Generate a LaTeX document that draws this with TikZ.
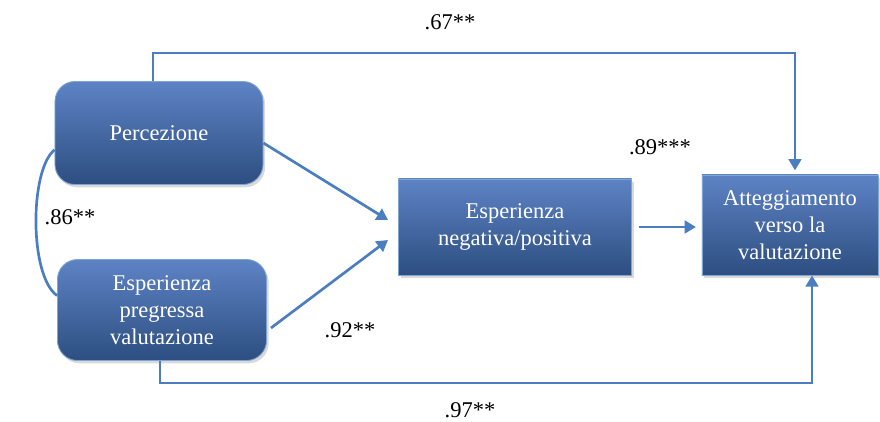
\documentclass[tikz,border=0pt]{standalone}
\usepackage{fontspec}
\setmainfont{Liberation Serif}
\usepackage{xcolor}
\usetikzlibrary{arrows.meta, positioning, shadows}

\definecolor{boxtop}{HTML}{5E83C5}
\definecolor{boxbot}{HTML}{2C4E80}
\definecolor{linkblue}{HTML}{4A7EC0}

\tikzset{
    varbox/.style={draw=linkblue!70!white, line width=0.6pt, top color=boxtop, bottom color=boxbot,
        text=white, align=center, font=\fontsize{16}{19}\selectfont, inner sep=2pt,
        drop shadow={opacity=0.3, shadow xshift=1.5pt, shadow yshift=-2pt}},
    roundbox/.style={varbox, rounded corners=0.5cm},
    link/.style={draw=linkblue, line width=1.9pt},
    arrowlink/.style={link, -{Triangle[length=8pt, width=9pt]}},
    coef/.style={font=\fontsize{16}{19}\selectfont}
}

\begin{document}
\begin{tikzpicture}[x=0.025cm, y=-0.025cm]
    \useasboundingbox (0,0) rectangle (880,421);

    % Boxes
    \node[roundbox, minimum width=5.2cm, minimum height=2.575cm] (perc) at (159,133) {Percezione};
    \node[roundbox, minimum width=5.225cm, minimum height=2.525cm] (preg) at (162,310) {Esperienza\\pregressa\\valutazione};
    \node[varbox, minimum width=5.825cm, minimum height=2.4cm] (neg) at (515,227) {Esperienza\\negativa/positiva};
    \node[varbox, minimum width=4.4cm, minimum height=2.5cm] (att) at (790,225) {Atteggiamento\\verso la\\valutazione};

    % Free ends of the two converging arrows
    \coordinate (inA) at (388,220);
    \coordinate (inB) at (388,240);

    % Connectors
    \draw[arrowlink, shorten >=3pt] ([xshift=-0.15cm]perc.north) -- ++(0,-28) -| ([xshift=0.125cm]att.north);
    \draw[arrowlink] ([yshift=-0.25cm]perc.east) -- (inA);
    \draw[arrowlink] ([xshift=0.1cm, yshift=-0.45cm]preg.east) -- (inB);
    \draw[arrowlink, shorten <=5pt, shorten >=4pt] (neg.east) -- (neg.east -| att.west);
    \draw[arrowlink] ([xshift=-0.05cm]preg.south) -- ++(0,22) -| ([xshift=0.55cm]att.south);
    \draw[link] ([yshift=-0.42cm]perc.west) .. controls +(-25,20) and +(-28,-20) .. ([yshift=0.36cm]preg.west);

    % Coefficients
    \node[coef] (c67) at (450,22) {.67**};
    \node[coef] (c89) at (660,147) {.89***};
    \node[coef] (c86) at (70,217) {.86**};
    \node[coef] (c92) at (350,330) {.92**};
    \node[coef] (c97) at (470,410) {.97**};
\end{tikzpicture}
\end{document}
